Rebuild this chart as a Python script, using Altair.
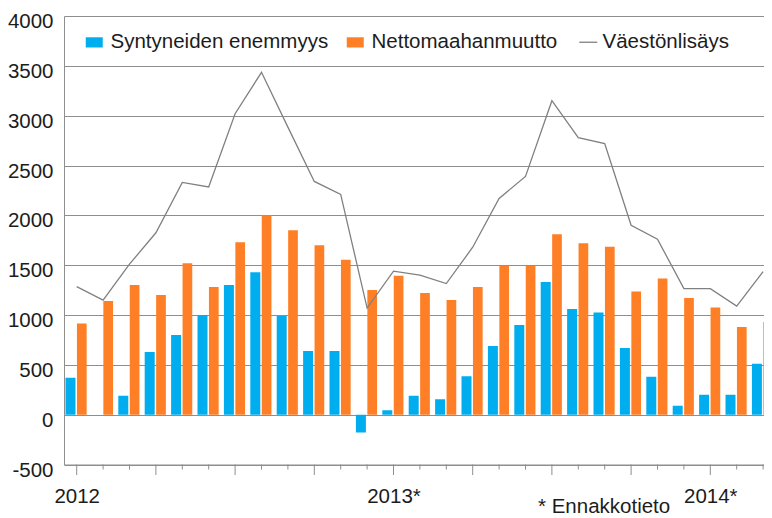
import altair as alt
import pandas as pd

# ---- data (monthly, Jan 2012 .. Mar 2014) ----
months = list(range(27))
year_labels = {0: "2012", 12: "2013*", 24: "2014*"}
series_bar = ["Syntyneiden enemmyys", "Nettomaahanmuutto"]
series_line = "Väestönlisäys"

births = [370, 0, 190, 630, 800, 1000, 1300, 1430, 990, 640, 640, -180,
          45, 190, 155, 385, 690, 900, 1330, 1060, 1025, 670, 380, 90,
          200, 200, 510]
migration = [915, 1140, 1300, 1200, 1520, 1280, 1730, 2000, 1850, 1700, 1555, 1250,
             1395, 1220, 1150, 1280, 1495, 1495, 1810, 1720, 1685, 1235, 1365, 1170,
             1075, 880, 930]
growth = [1285, 1150, 1510, 1825, 2330, 2285, 3020, 3435, 2885, 2340, 2210, 1070,
          1440, 1400, 1315, 1680, 2170, 2390, 3150, 2780, 2720, 1900, 1760, 1265,
          1265, 1090, 1435]
y_ticks = list(range(-500, 4001, 500))
x_domain = [-0.481, 26.034]
note_text = "* Ennakkotieto"

# ---- style ----
FONT = "Liberation Sans"
FS = 20.5
TXT = "#1c1c1c"
GRID = "#8e8e8e"
BLUE = "#00AEEF"
ORANGE = "#FF7F27"
LINEC = "#808080"
W = 700
H = 448.5

births_df = pd.DataFrame({"i": months, "series": [series_bar[0]] * len(months), "value": births})
migr_df = pd.DataFrame({"i": months, "series": [series_bar[1]] * len(months), "value": migration})
line_df = pd.DataFrame({"i": months, "series": [series_line] * len(months), "value": growth})
major_df = pd.DataFrame({"i": [m for m in months if m % 3 == 0]})
minor_df = pd.DataFrame({"i": [m for m in months if m % 3 != 0]})
note_df = pd.DataFrame({"t": [note_text]})

label_expr = " : ".join(f"datum.value == {k} ? '{v}'" for k, v in year_labels.items()) + " : ''"

x_scale = alt.Scale(domain=x_domain, nice=False, zero=False, padding=0)
x_axis = alt.Axis(title=None, values=months, ticks=False, tickSize=0, grid=False, domain=True,
                  domainColor=GRID, domainWidth=1, labelExpr=label_expr, labelAngle=0,
                  labelAlign="center", labelBaseline="top", labelPadding=22,
                  labelFont=FONT, labelFontSize=FS, labelColor=TXT, labelOverlap=False,
                  labelFlush=False)
y_scale = alt.Scale(domain=[-500, 4000], nice=False, zero=False, padding=0)
y_axis = alt.Axis(title=None, values=y_ticks, ticks=False, tickSize=0, grid=True,
                  gridColor=GRID, gridWidth=1, domain=True, domainColor=GRID,
                  labelExpr="'' + datum.value", labelPadding=11, labelOffset=5.5,
                  labelFont=FONT, labelFontSize=FS, labelColor=TXT)

X = alt.X("i:Q", scale=x_scale, axis=x_axis)
Y = alt.Y("value:Q", scale=y_scale, axis=y_axis)
color = alt.Color("series:N",
                  scale=alt.Scale(domain=series_bar, range=[BLUE, ORANGE]),
                  legend=alt.Legend(orient="none", legendX=20, legendY=16, direction="horizontal",
                                    title=None, symbolType="M-1,-0.6H1V0.6H-1Z", symbolSize=289,
                                    symbolStrokeWidth=0, labelFont=FONT, labelFontSize=FS,
                                    labelColor=TXT, labelOffset=6, columnPadding=16,
                                    labelLimit=0, padding=0))

bars_b = alt.Chart(births_df).mark_bar(width=10, xOffset=-6.2, clip=True).encode(x=X, y=Y, color=color)
bars_m = alt.Chart(migr_df).mark_bar(width=9.7, xOffset=5.1, clip=True).encode(x=X, y=Y, color=color)

line = alt.Chart(line_df).mark_line(strokeWidth=1.3, clip=True).encode(
    x=X,
    y=Y,
    stroke=alt.Stroke("series:N",
                      scale=alt.Scale(domain=[series_line], range=[LINEC]),
                      legend=alt.Legend(orient="none", legendX=514, legendY=16, direction="horizontal",
                                        title=None, symbolType="stroke", symbolSize=324,
                                        symbolStrokeWidth=1.3, labelFont=FONT, labelFontSize=FS,
                                        labelColor=TXT, labelOffset=4, labelLimit=0, padding=0)),
)

ticks_major = alt.Chart(major_df).mark_rule(color=GRID, strokeWidth=1).encode(
    x=X, y=alt.value(H), y2=alt.value(H + 10.5))
ticks_minor = alt.Chart(minor_df).mark_rule(color=GRID, strokeWidth=1).encode(
    x=X, y=alt.value(H), y2=alt.value(H + 5))

note = alt.Chart(note_df).mark_text(align="left", baseline="alphabetic", font=FONT,
                                    fontSize=FS, color=TXT).encode(
    x=alt.value(474), y=alt.value(497), text="t:N")

chart = alt.layer(bars_b, bars_m, line, ticks_major, ticks_minor, note).properties(
    width=W, height=H,
    autosize=alt.AutoSizeParams(type="none"),
    padding={"left": 56, "top": 8, "right": 0, "bottom": 56},
).configure_view(strokeWidth=0)

chart.save("out.html", embed_options={"renderer": "svg", "actions": False})
